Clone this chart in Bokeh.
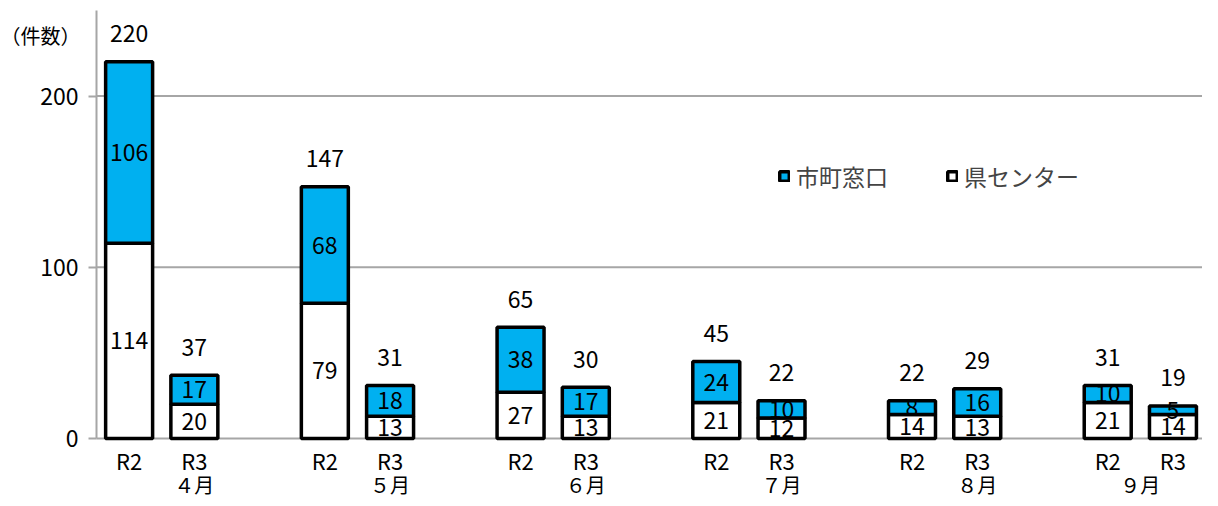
from bokeh.plotting import figure
from bokeh.models import (ColumnDataSource, Range1d, FixedTicker, Legend, LegendItem,
                          LabelSet, Label, LinearAxis)
from bokeh.embed import file_html
from bokeh.resources import INLINE
from bokeh.core.properties import value

months = ["４月", "５月", "６月", "７月", "８月", "９月"]
years = ["R2", "R3"]
# 県センター (bottom, white) and 市町窓口 (top, blue), order: R2, R3 per month
center_vals = [114, 20, 79, 13, 27, 13, 21, 12, 14, 13, 21, 14]
city_vals = [106, 17, 68, 18, 38, 17, 24, 10, 8, 16, 10, 5]
totals = [220, 37, 147, 31, 65, 30, 45, 22, 22, 29, 31, 19]
y_ticks = [0, 100, 200]
y_max = 250

FONT = "Noto Sans CJK JP"
BLUE = "#00B0F0"
GRAY = "#a6a6a6"

W, H = 1202, 498          # canvas
PX = 65.24                # px per category slot
PY = 1.712                # px per unit on y
LEFT_PAD = 96             # px left of the plot area
ZERO_Y = 438              # canvas px (from top) of the zero line

# category slots: R2, R3 and a blank slot between months
bar_pos, month_pos, bar_yr = [], [], []
slot = 0
for i, m in enumerate(months):
    n = 3 if i < len(months) - 1 else 2
    for k, yr in enumerate(years):
        bar_pos.append(slot + k + 0.5)
        bar_yr.append(yr)
    month_pos.append(slot + n / 2)
    slot += n
n_slots = slot

src = ColumnDataSource(dict(
    x=bar_pos,
    yr=bar_yr,
    zero=[0] * len(bar_pos),
    center=center_vals,
    city=city_vals,
    total=totals,
    center_mid=[c / 2 for c in center_vals],
    city_mid=[c + t / 2 for c, t in zip(center_vals, city_vals)],
    center_txt=[str(v) for v in center_vals],
    city_txt=[str(v) for v in city_vals],
    total_txt=[str(v) for v in totals],
))
msrc = ColumnDataSource(dict(x=month_pos, zero=[0] * len(months), txt=months))
gsrc = ColumnDataSource(dict(y=y_ticks, x0=[0] * len(y_ticks), x1=[n_slots] * len(y_ticks)))

x_range = Range1d(-LEFT_PAD / PX, (W - LEFT_PAD) / PX)
y_range = Range1d(-(H - ZERO_Y) / PY, ZERO_Y / PY)

p = figure(x_range=x_range, y_range=y_range, width=W, height=H,
           x_axis_type=None, y_axis_type=None,
           output_backend="svg", toolbar_location=None, min_border=0)
p.outline_line_color = None
p.background_fill_color = "white"

# gridlines / x axis line
p.segment(x0="x0", x1="x1", y0="y", y1="y", source=gsrc, line_color=GRAY, line_width=2)

rs = p.vbar_stack(["center", "city"], x="x", width=0.72, source=src,
                  fill_color=["white", BLUE], line_color="black", line_width=3.5)

# value labels
for col, ycol in [("center_txt", "center_mid"), ("city_txt", "city_mid")]:
    p.add_layout(LabelSet(x="x", y=ycol, text=col, source=src, text_align="center",
                          text_baseline="middle", text_font=value(FONT),
                          text_font_size="23px", text_color="black"))
p.add_layout(LabelSet(x="x", y="total", text="total_txt", source=src, text_align="center",
                      text_baseline="middle", y_offset=28, text_font=value(FONT),
                      text_font_size="23px", text_color="black"))
# category labels
p.add_layout(LabelSet(x="x", y="zero", text="yr", source=src, text_align="center",
                      text_baseline="middle", y_offset=-21, text_font=value(FONT),
                      text_font_size="22px", text_color="black"))
p.add_layout(LabelSet(x="x", y="zero", text="txt", source=msrc, text_align="center",
                      text_baseline="middle", y_offset=-46, text_font=value(FONT),
                      text_font_size="20px", text_color="black"))

# y axis at the left edge of the plot area
yax = LinearAxis(fixed_location=0, bounds=(0, y_max), ticker=FixedTicker(ticks=y_ticks))
yax.major_tick_out = 8
yax.major_tick_in = 0
yax.minor_tick_line_color = None
yax.major_tick_line_color = GRAY
yax.major_tick_line_width = 2
yax.axis_line_color = GRAY
yax.axis_line_width = 2
yax.major_label_text_font = FONT
yax.major_label_text_font_size = "23px"
yax.major_label_text_color = "black"
yax.major_label_standoff = 10
p.add_layout(yax, "left")

p.add_layout(Label(x=40, y=H - 35, x_units="screen", y_units="screen", text="（件数）",
                   text_align="center", text_baseline="middle",
                   text_font=FONT, text_font_size="20px", text_color="black"))

legend = Legend(items=[LegendItem(label="市町窓口", renderers=[rs[1]]),
                       LegendItem(label="県センター", renderers=[rs[0]])],
                orientation="horizontal", location=(778, 305),
                label_text_font=FONT, label_text_font_size="23px",
                glyph_width=12, glyph_height=12, spacing=58, label_standoff=6,
                border_line_color=None, background_fill_alpha=0)
p.add_layout(legend, "center")

open("out.html", "w").write(file_html(p, INLINE))
